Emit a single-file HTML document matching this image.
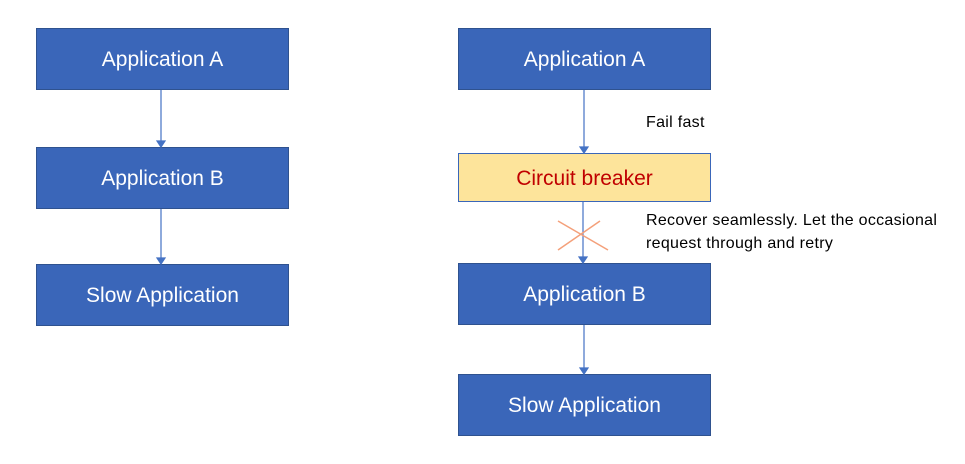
<!DOCTYPE html>
<html><head><style>
body{margin:0;width:965px;height:464px;background:#fff;font-family:"Liberation Sans",sans-serif;position:relative;overflow:hidden}
.b{position:absolute;background:#3a66b9;border:1px solid #2f528f;color:#fff;font-size:21px;display:flex;align-items:center;justify-content:center;box-sizing:border-box;padding-top:2px}
.t{position:absolute;font-size:16px;letter-spacing:0.3px;color:#000;line-height:23px}
</style></head><body>
<div class="b" style="left:36px;top:28px;width:253px;height:62px">Application A</div>
<div class="b" style="left:36px;top:147px;width:253px;height:62px">Application B</div>
<div class="b" style="left:36px;top:264px;width:253px;height:62px">Slow Application</div>
<div class="b" style="left:458px;top:28px;width:253px;height:62px">Application A</div>
<div class="b" style="left:458px;top:153px;width:253px;height:49px;background:#fde49b;color:#c00000;border-color:#3a66b9">Circuit breaker</div>
<div class="b" style="left:458px;top:263px;width:253px;height:62px">Application B</div>
<div class="b" style="left:458px;top:374px;width:253px;height:62px">Slow Application</div>
<svg width="965" height="464" style="position:absolute;left:0;top:0">
<g stroke="#4472c4" stroke-width="1.2" fill="#4472c4">
<line x1="161" y1="90" x2="161" y2="142"/><polygon points="157,141 165,141 161,147"/>
<line x1="161" y1="209" x2="161" y2="259"/><polygon points="157,258 165,258 161,264"/>
<line x1="584" y1="90" x2="584" y2="148"/><polygon points="580,147 588,147 584,153"/>
<line x1="583" y1="202" x2="583" y2="258"/><polygon points="579,257 587,257 583,263"/>
<line x1="584" y1="325" x2="584" y2="369"/><polygon points="580,368 588,368 584,374"/>
</g>
<g stroke="#f4a07a" stroke-width="1.5">
<line x1="558" y1="221" x2="608" y2="250"/><line x1="558" y1="250" x2="600" y2="221"/>
</g>
</svg>
<div class="t" style="left:646px;top:111px">Fail fast</div>
<div class="t" style="left:646px;top:209px">Recover seamlessly. Let the occasional<br>request through and retry</div>
</body></html>
